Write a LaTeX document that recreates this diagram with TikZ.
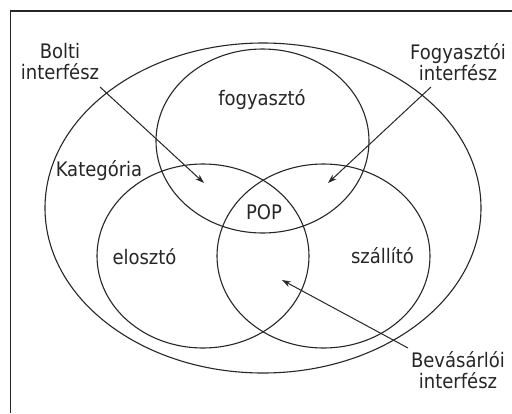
\documentclass[tikz,border=0pt]{standalone}
\usepackage{fontspec}
\setmainfont{DejaVu Sans Condensed}
\usetikzlibrary{shapes.geometric,arrows.meta}
\begin{document}
\begin{tikzpicture}[x=1pt,y=-1pt,
  set/.style={draw=black!85, line width=1.1pt, ellipse, inner sep=0pt, fill=none},
  lbl/.style={inner sep=0pt, align=center, anchor=base, font=\fontsize{20}{21}\selectfont, text=black!85},
  pointer/.style={draw=black!85, line width=1pt, -{Stealth[length=9pt,width=6pt]}}]
\useasboundingbox (0,0) rectangle (512,413);
\draw[draw=black!85, line width=1.2pt] (10.5,413) -- (10.5,11) -- (512,11);
% sets
\node[set, minimum width=436pt, minimum height=330pt] (kat) at (263,208) {};
\node[set, minimum width=213pt, minimum height=184pt] (fogy) at (262.5,141) {};
\node[set, minimum width=212pt, minimum height=184pt] (elo) at (203,256) {};
\node[set, minimum width=213pt, minimum height=184pt] (szal) at (323.5,256) {};
% labels
\node[lbl] (tfogy) at (262,105) {fogyasztó};
\node[lbl] (tkat) at (99,176) {Kategória};
\node[lbl] (tpop) at (264,219) {POP};
\node[lbl] (telo) at (144.5,264) {elosztó};
\node[lbl] (tszal) at (382.5,263) {szállító};
\node[lbl] (tbolti) at (60,79) {Bolti\\interfész};
\node[lbl] (tfi) at (458,80) {Fogyasztói\\interfész};
\node[lbl] (tbev) at (458,388) {Bevásárlói\\interfész};
% arrows
\coordinate (b0) at (100,87);
\coordinate (b1) at (204,183);
\coordinate (f0) at (431,87);
\coordinate (f1) at (328,183);
\coordinate (v0) at (408,348);
\coordinate (v1) at (282,280);
\draw[pointer] (b0) -- (b1);
\draw[pointer] (f0) -- (f1);
\draw[pointer] (v0) -- (v1);
\end{tikzpicture}
\end{document}
